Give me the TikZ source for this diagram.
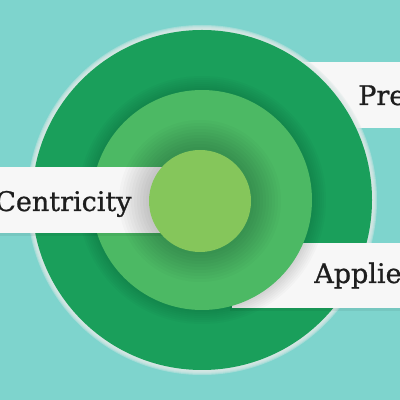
\documentclass[tikz,border=0pt]{standalone}
\usepackage{fontspec}
\newfontfamily\slabfont[FakeBold=0.9]{DejaVu Serif}
\definecolor{bgteal}{HTML}{7ED4CD}
\definecolor{halo}{HTML}{DCE8E6}
\definecolor{ringdark}{HTML}{1A9F5B}
\definecolor{ringmid}{HTML}{4CB964}
\definecolor{ringcore}{HTML}{85C65B}
\definecolor{banner}{HTML}{F7F7F7}
\definecolor{labeltext}{HTML}{1E1E1E}

\begin{document}
\begin{tikzpicture}[x=0.025cm, y=0.025cm,
  bannerlabel/.style={anchor=base west, inner sep=0pt, text=labeltext,
    font=\slabfont\fontsize{19.2}{22}\selectfont}]
  \useasboundingbox (0,0) rectangle (400,400);
  \clip (0,0) rectangle (400,400);
  \fill[bgteal] (0,0) rectangle (400,400);
  % Top Banner
  \fill[banner] (290,272) rectangle (400,338);
  \node[bannerlabel] (pre) at (358,295) {Pre};
  % Outer Ring
  \foreach \d in {1,2,...,6}
    \fill[halo, opacity=0.4] (202,200) circle [radius=169+\d];
  \fill[ringdark] (202,200) circle [radius=170];
  % Lower Banner
  \fill[black, opacity=0.06] (230,89) rectangle (400,157);
  \fill[banner] (232,92) rectangle (400,157);
  \node[bannerlabel] (applie) at (314,117) {Applie};
  % Middle Ring
  \foreach \d in {2,4,...,14}
    \fill[black, opacity=0.02] (202,200) circle [radius=110+\d];
  \fill[ringmid] (202,200) circle [radius=110];
  % Left Banner
  \fill[black, opacity=0.06] (0,164) rectangle (172,233);
  \fill[banner] (0,167) rectangle (170,233);
  \node[bannerlabel] (centricity) at (-5,189) {Centricity};
  % Core
  \foreach \d in {3,6,...,30}
    \fill[black, opacity=0.02] (200,199) circle [radius=51+\d];
  \fill[ringcore] (200,199) circle [radius=51];
\end{tikzpicture}
\end{document}
